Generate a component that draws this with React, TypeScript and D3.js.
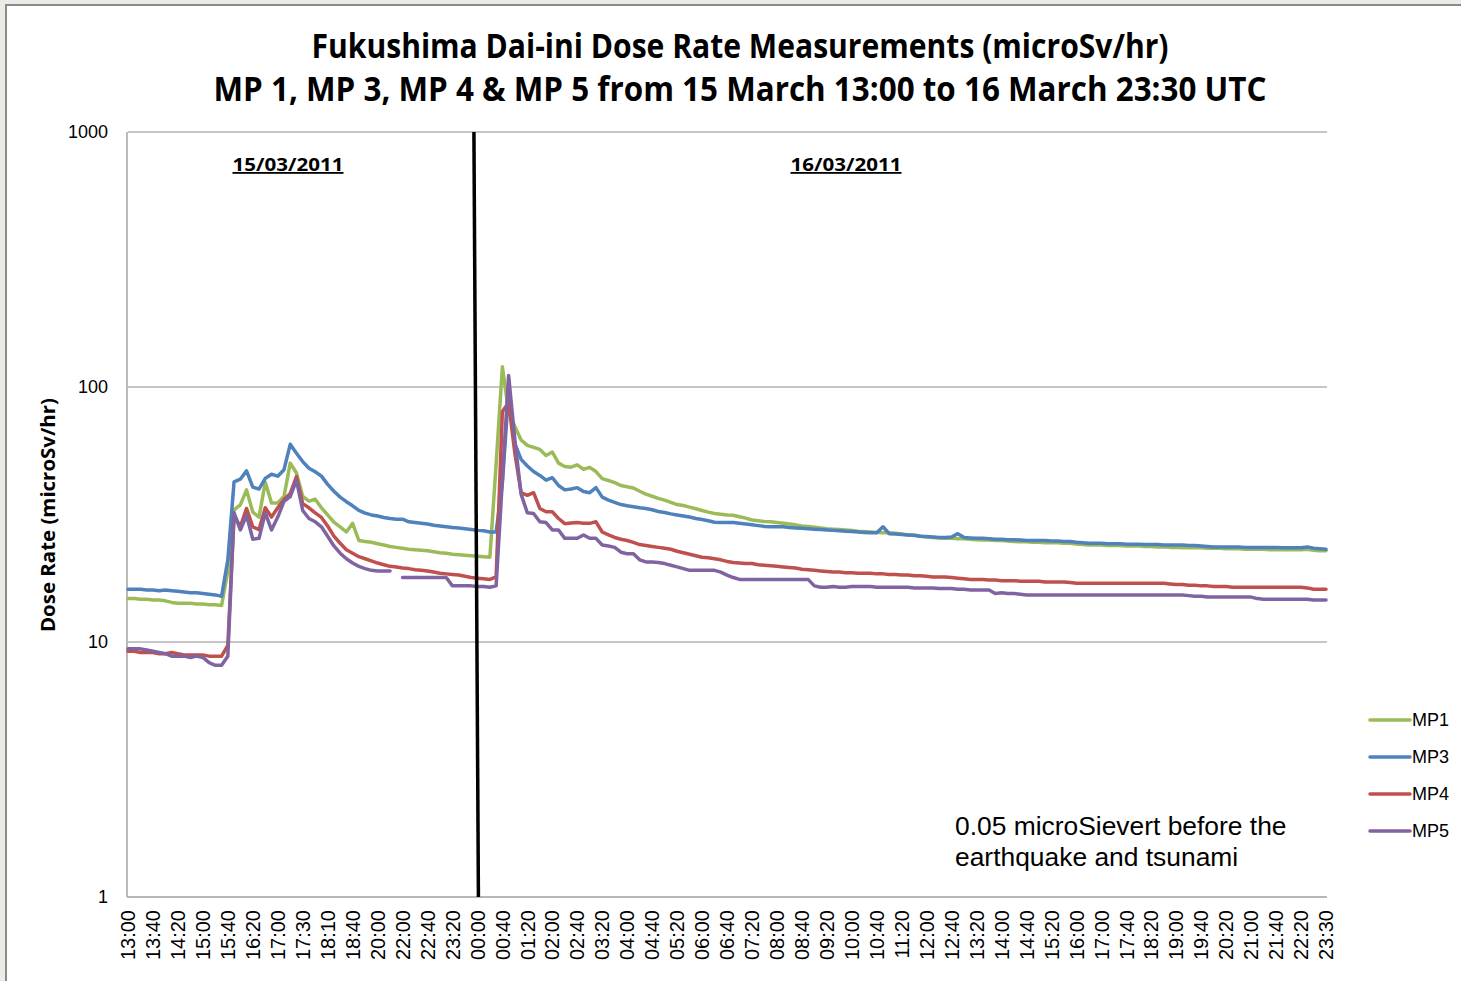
import { useEffect, useRef } from 'react';
import * as d3 from 'd3';

// category axis: one label every 4 samples
const tickLabels = [
  '13:00', '13:40', '14:20', '15:00', '15:40', '16:20', '17:00', '17:30', '18:10', '18:40',
  '20:00', '22:00', '22:40', '23:20', '00:00', '00:40', '01:20', '02:00', '02:40', '03:20',
  '04:00', '04:40', '05:20', '06:00', '06:40', '07:20', '08:00', '08:40', '09:20', '10:00',
  '10:40', '11:20', '12:00', '12:40', '13:20', '14:00', '14:40', '15:20', '16:00', '17:00',
  '17:40', '18:20', '19:00', '19:40', '20:20', '21:00', '21:40', '22:20', '23:30'
];
const tickEvery = 4;

const mp1 = [
  14.8, 14.8, 14.7, 14.7, 14.6, 14.6, 14.5, 14.3, 14.2, 14.2,
  14.2, 14.1, 14.1, 14.0, 14.0, 13.9, 19, 33, 34.5, 39.5,
  32.3, 30.9, 42.3, 35.1, 35.1, 37.2, 50.3, 46, 37.2, 35.7,
  36.3, 33.6, 31.5, 29.5, 28.3, 27, 29.2, 25, 24.8, 24.6,
  24.3, 24.0, 23.7, 23.5, 23.3, 23.1, 23.0, 22.9, 22.8, 22.6,
  22.4, 22.3, 22.1, 22.0, 21.9, 21.8,
  21.7, 21.6, 21.5, 50,
  120, 80, 70, 62, 59, 58, 56.9, 53.9, 55.6, 50.3,
  48.8, 48.5, 49.5, 47.6, 48.4, 46.6, 43.7, 43, 42.2, 41.1,
  40.6, 40.2, 39, 38, 37.3, 36.6, 36.0, 35.3, 34.6, 34.3,
  33.8, 33.3, 32.8, 32.3, 31.9, 31.7, 31.5, 31.4, 31, 30.6,
  30.1, 29.9, 29.7, 29.6, 29.4, 29.2, 29.0, 28.8, 28.5, 28.4,
  28.2, 28.0, 27.8, 27.7, 27.6, 27.5, 27.4, 27.2, 27.1, 27.0,
  26.9, 26.8, 26.8, 26.7, 26.5, 26.3, 26.2, 26.0, 25.8, 25.7,
  25.6, 25.5, 25.5, 25.4, 25.4, 25.3, 25.2, 25.1, 25.1, 25.0,
  25.0, 24.9, 24.8, 24.7, 24.7, 24.6, 24.6, 24.5, 24.5, 24.5,
  24.4, 24.4, 24.2, 24.1, 24.0, 24.0, 24.0, 23.9, 23.9, 23.9,
  23.8, 23.8, 23.8, 23.7, 23.7, 23.6, 23.6, 23.5, 23.5, 23.4,
  23.4, 23.4, 23.4, 23.3, 23.3, 23.3, 23.2, 23.2, 23.2, 23.1,
  23.1, 23.1, 23.1, 23.0, 23.0, 23.0, 23.0, 23.0, 23.0, 23.1,
  22.9, 22.8, 22.8
];

const mp3 = [
  16.1, 16.1, 16.1, 16.0, 16.0, 15.9, 16.0, 15.9, 15.8, 15.7,
  15.6, 15.6, 15.5, 15.4, 15.3, 15.1, 21, 42.5, 43.5, 46.9,
  40.5, 39.8, 43.8, 45.5, 44.7, 47.4, 59.6, 55, 51, 48,
  46.5, 44.7, 41.5, 39, 37, 35.5, 34.2, 32.8, 32.0, 31.5,
  31.2, 30.8, 30.5, 30.3, 30.3, 29.6, 29.4, 29.2, 29.0, 28.7,
  28.5, 28.3, 28.1, 28.0, 27.8, 27.6,
  27.4, 27.3, 27.0, 27.0,
  42, 95, 60, 52, 49, 46.6, 45, 43.1, 44.1, 41.1,
  39.5, 39.8, 40.3, 38.9, 38.5, 40.3, 37, 36, 35.3, 34.6,
  34.2, 33.9, 33.6, 33.4, 33.0, 32.5, 32.2, 31.8, 31.5, 31.2,
  30.9, 30.5, 30.2, 29.9, 29.5, 29.4, 29.4, 29.4, 29.2, 29.0,
  28.8, 28.6, 28.4, 28.3, 28.3, 28.3, 28.1, 28.0, 27.9, 27.8,
  27.7, 27.6, 27.5, 27.4, 27.3, 27.2, 27.1, 27.0, 26.9, 26.8,
  26.8, 28.3, 26.6, 26.5, 26.4, 26.3, 26.2, 26.0, 25.9, 25.8,
  25.7, 25.7, 25.8, 26.6, 25.7, 25.6, 25.5, 25.5, 25.4, 25.3,
  25.3, 25.2, 25.2, 25.1, 25.0, 25.0, 25.0, 25.0, 24.9, 24.9,
  24.8, 24.8, 24.6, 24.5, 24.4, 24.4, 24.4, 24.3, 24.3, 24.3,
  24.2, 24.2, 24.2, 24.1, 24.1, 24.1, 24.0, 24.0, 24.0, 24.0,
  23.9, 23.9, 23.8, 23.7, 23.6, 23.6, 23.6, 23.6, 23.6, 23.5,
  23.5, 23.5, 23.5, 23.5, 23.5, 23.4, 23.4, 23.4, 23.4, 23.6,
  23.3, 23.2, 23.1
];

const mp4 = [
  9.2, 9.2, 9.1, 9.1, 9.1, 9.0, 9.0, 9.1, 9.0, 8.9,
  8.9, 8.9, 8.9, 8.8, 8.8, 8.8, 9.7, 31.4, 28.3, 33.4,
  28.3, 27.6, 33.6, 30.9, 33.6, 36.1, 38.2, 44.5, 34.9, 33.6,
  32.1, 30.8, 28.5, 26, 24.4, 23, 22.3, 21.6, 21.2, 20.8,
  20.4, 20.1, 19.8, 19.7, 19.5, 19.4, 19.2, 19.1, 19.0, 18.8,
  18.6, 18.5, 18.4, 18.3, 18.1, 17.9,
  17.8, 17.7, 17.6, 18,
  80, 87, 55, 38.5, 37.6, 38.5, 33.4, 32.4, 32.4, 30.5,
  29.1, 29.3, 29.4, 29.2, 29.2, 29.6, 27, 26.3, 25.7, 25.3,
  25.0, 24.6, 24.1, 23.9, 23.7, 23.5, 23.3, 23.1, 22.7, 22.4,
  22.1, 21.8, 21.5, 21.4, 21.2, 21.0, 20.7, 20.5, 20.4, 20.3,
  20.3, 20.1, 20.0, 19.9, 19.8, 19.7, 19.6, 19.5, 19.3, 19.2,
  19.1, 19.0, 18.9, 18.8, 18.8, 18.7, 18.7, 18.6, 18.6, 18.6,
  18.5, 18.5, 18.4, 18.4, 18.3, 18.3, 18.2, 18.2, 18.1, 18.0,
  18.0, 18.0, 17.9, 17.8, 17.7, 17.6, 17.6, 17.6, 17.5, 17.5,
  17.4, 17.4, 17.4, 17.3, 17.3, 17.3, 17.3, 17.2, 17.2, 17.2,
  17.2, 17.1, 17.0, 17.0, 17.0, 17.0, 17.0, 17.0, 17.0, 17.0,
  17.0, 17.0, 17.0, 17.0, 17.0, 17.0, 17.0, 16.9, 16.8, 16.8,
  16.7, 16.7, 16.6, 16.6, 16.5, 16.5, 16.5, 16.4, 16.4, 16.4,
  16.4, 16.4, 16.4, 16.4, 16.4, 16.4, 16.4, 16.4, 16.4, 16.3,
  16.1, 16.1, 16.1
];

const mp5 = [
  9.4, 9.4, 9.4, 9.3, 9.2, 9.1, 9.0, 8.8, 8.8, 8.8,
  8.7, 8.8, 8.7, 8.3, 8.1, 8.1, 8.8, 32.1, 27.5, 31.4,
  25.3, 25.5, 32.1, 27.5, 30.9, 35.6, 37.2, 43.1, 32.8, 30.5,
  29.6, 28.3, 26, 23.8, 22.3, 21.2, 20.4, 19.8, 19.4, 19.1,
  19.0, 19.0, 19.0, null, 17.9, 17.9, 17.9, 17.9, 17.9, 17.9,
  17.9, 17.9, 16.6, 16.6, 16.6, 16.6,
  16.5, 16.5, 16.4, 16.6,
  43, 111, 62, 38, 32.1, 31.9, 29.6, 29.4, 27.5, 27.5,
  25.5, 25.5, 25.5, 26.3, 25.5, 25.5, 24.0, 23.8, 23.5, 22.5,
  22.2, 22.2, 21, 20.6, 20.6, 20.5, 20.3, 20.0, 19.7, 19.4,
  19.1, 19.1, 19.1, 19.1, 19.1, 18.8, 18.3, 17.9, 17.6, 17.6,
  17.6, 17.6, 17.6, 17.6, 17.6, 17.6, 17.6, 17.6, 17.6, 17.6,
  16.6, 16.4, 16.4, 16.5, 16.4, 16.4, 16.5, 16.5, 16.5, 16.5,
  16.4, 16.4, 16.4, 16.4, 16.4, 16.4, 16.3, 16.3, 16.3, 16.3,
  16.2, 16.2, 16.2, 16.1, 16.1, 16.0, 16.0, 16.0, 16.0, 15.5,
  15.6, 15.5, 15.5, 15.4, 15.3, 15.3, 15.3, 15.3, 15.3, 15.3,
  15.3, 15.3, 15.3, 15.3, 15.3, 15.3, 15.3, 15.3, 15.3, 15.3,
  15.3, 15.3, 15.3, 15.3, 15.3, 15.3, 15.3, 15.3, 15.3, 15.3,
  15.2, 15.1, 15.1, 15.0, 15.0, 15.0, 15.0, 15.0, 15.0, 15.0,
  15.0, 14.8, 14.7, 14.7, 14.7, 14.7, 14.7, 14.7, 14.7, 14.7,
  14.6, 14.6, 14.6
];

const seriesNames = ['MP1', 'MP3', 'MP4', 'MP5'];
const seriesValues = [mp1, mp3, mp4, mp5];
const seriesColors = ['#9bbb59', '#4f81bd', '#c0504d', '#8064a2'];
const yTicks = [1, 10, 100, 1000];
const dayLabels = ['15/03/2011', '16/03/2011'];
const midnightIndex = 56;

const W = 1461, H = 981;
const plot = { left: 128, right: 1327, top: 132, bottom: 897 };

export default function App() {
  const ref = useRef<SVGSVGElement>(null);

  useEffect(() => {
    const svg = d3.select(ref.current);
    svg.selectAll('*').remove();

    // backdrop + chart frame
    svg.append('rect').attr('width', W).attr('height', H).attr('fill', '#ecebe6');
    svg.append('rect')
      .attr('x', 6).attr('y', 5).attr('width', W + 20).attr('height', H + 20)
      .attr('fill', '#fff').attr('stroke', '#8a8a8a').attr('stroke-width', 2);

    const x = d3.scaleLinear().domain([0, mp1.length - 1]).range([plot.left, plot.right - 1]);
    const y = d3.scaleLog().domain([1, 1000]).range([plot.bottom, plot.top]);

    // title
    const title = svg.append('g')
      .attr('font-family', 'Open Sans, sans-serif').attr('font-weight', 'bold')
      .attr('text-anchor', 'middle').attr('fill', '#000');
    title.append('text').attr('x', 740).attr('y', 58).attr('font-size', 34)
      .attr('textLength', 857).attr('lengthAdjust', 'spacingAndGlyphs')
      .text('Fukushima Dai-ini Dose Rate Measurements (microSv/hr)');
    title.append('text').attr('x', 740).attr('y', 101).attr('font-size', 34)
      .attr('textLength', 1053).attr('lengthAdjust', 'spacingAndGlyphs')
      .text('MP 1, MP 3, MP 4 & MP 5 from 15 March 13:00 to 16 March 23:30 UTC');

    // gridlines
    svg.append('g').selectAll('line')
      .data(yTicks.slice(1))
      .enter().append('line')
      .attr('x1', plot.left).attr('x2', plot.right)
      .attr('y1', d => y(d)).attr('y2', d => y(d))
      .attr('stroke', '#8c8c8c').attr('stroke-width', 1);

    // axes lines
    svg.append('line').attr('x1', plot.left - 1).attr('x2', plot.left - 1)
      .attr('y1', plot.top).attr('y2', plot.bottom)
      .attr('stroke', '#8c8c8c').attr('stroke-width', 1.2);
    svg.append('line').attr('x1', plot.left - 1).attr('x2', plot.right)
      .attr('y1', plot.bottom).attr('y2', plot.bottom)
      .attr('stroke', '#a0a0a0').attr('stroke-width', 1.5);

    // y tick labels
    svg.append('g').selectAll('text')
      .data(yTicks)
      .enter().append('text')
      .attr('x', 108).attr('y', d => y(d)).attr('dy', '0.35em')
      .attr('text-anchor', 'end')
      .attr('font-family', 'Liberation Sans, Arial, sans-serif').attr('font-size', 18)
      .text(d => String(d));

    // x tick labels
    svg.append('g').selectAll('text')
      .data(tickLabels)
      .enter().append('text')
      .attr('transform', (d, i) => `translate(${x(i * tickEvery)},910) rotate(-90)`)
      .attr('dy', '0.36em')
      .attr('text-anchor', 'end')
      .attr('font-family', 'Liberation Sans, Arial, sans-serif').attr('font-size', 20)
      .text(d => d);

    // y axis title
    svg.append('text')
      .attr('transform', 'translate(48,515) rotate(-90)')
      .attr('dy', '0.35em')
      .attr('text-anchor', 'middle')
      .attr('font-family', 'Open Sans, sans-serif').attr('font-weight', 'bold').attr('font-size', 20)
      .attr('textLength', 234).attr('lengthAdjust', 'spacingAndGlyphs')
      .text('Dose Rate (microSv/hr)');

    // day captions
    svg.append('g').selectAll('text')
      .data(dayLabels)
      .enter().append('text')
      .attr('x', (d, i) => (i === 0 ? 288 : 846)).attr('y', 171)
      .attr('text-anchor', 'middle')
      .attr('font-family', 'Open Sans, sans-serif').attr('font-weight', 'bold').attr('font-size', 18)
      .attr('textLength', 111).attr('lengthAdjust', 'spacingAndGlyphs')
      .attr('text-decoration', 'underline')
      .text(d => d);

    // series
    const line = d3.line<number | null>()
      .defined(d => d != null)
      .x((d, i) => x(i))
      .y(d => y(d as number));
    svg.append('g').selectAll('path')
      .data(seriesValues)
      .enter().append('path')
      .attr('d', d => line(d))
      .attr('fill', 'none')
      .attr('stroke', (d, i) => seriesColors[i])
      .attr('stroke-width', 3.5)
      .attr('stroke-linejoin', 'round')
      .attr('stroke-linecap', 'round');

    // midnight divider
    svg.append('line')
      .attr('x1', x(midnightIndex) - 3.5).attr('y1', plot.top)
      .attr('x2', x(midnightIndex) + 1).attr('y2', plot.bottom)
      .attr('stroke', '#000').attr('stroke-width', 3.5);

    // note
    const note = svg.append('text')
      .attr('font-family', 'Liberation Sans, Arial, sans-serif').attr('font-size', 26.4).attr('fill', '#000');
    note.append('tspan').attr('x', 955).attr('y', 835).text('0.05 microSievert before the');
    note.append('tspan').attr('x', 955).attr('y', 866).text('earthquake and tsunami');

    // legend
    const legend = svg.append('g').selectAll('g')
      .data(seriesNames)
      .enter().append('g')
      .attr('transform', (d, i) => `translate(1370,${720 + i * 37})`);
    legend.append('line')
      .attr('x1', 0).attr('x2', 40)
      .attr('stroke', (d, i) => seriesColors[i])
      .attr('stroke-width', 3.5).attr('stroke-linecap', 'round');
    legend.append('text')
      .attr('x', 42).attr('dy', '0.36em')
      .attr('font-family', 'Liberation Sans, Arial, sans-serif').attr('font-size', 18)
      .text(d => d);
  }, []);

  return <svg ref={ref} width={W} height={H} style={{ position: 'absolute', left: 0, top: 0 }} />;
}
